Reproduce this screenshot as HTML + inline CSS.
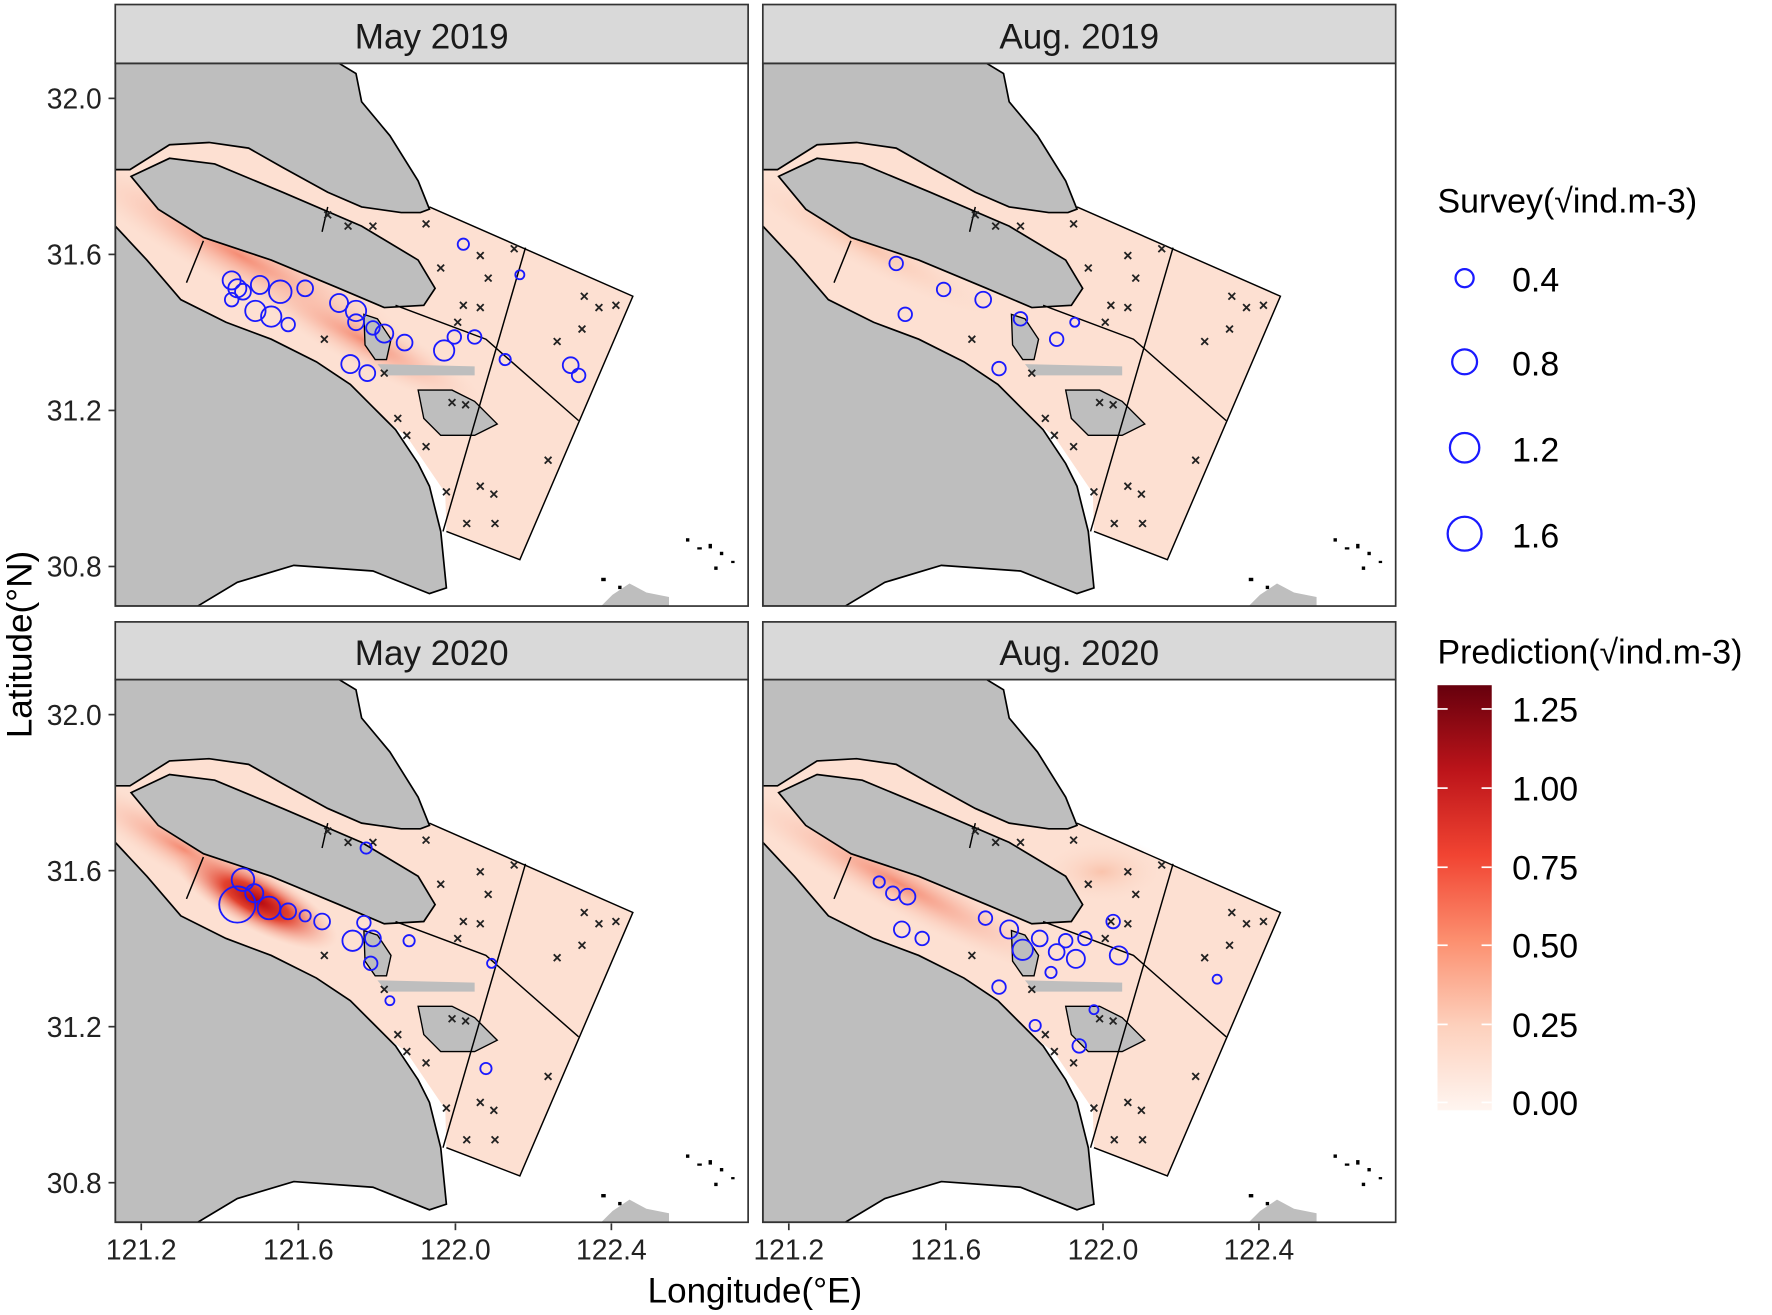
<!DOCTYPE html>
<html><head><meta charset="utf-8"><style>html,body{margin:0;padding:0;background:#fff}svg{display:block}</style></head>
<body>
<svg width="1772" height="1315" viewBox="0 0 1568 1163" preserveAspectRatio="none" xmlns="http://www.w3.org/2000/svg" font-family="Liberation Sans, sans-serif">
<defs>
<linearGradient id="cb" x1="0" y1="1" x2="0" y2="0">
<stop offset="0" stop-color="#fff5f0"/><stop offset="0.2" stop-color="#fdd0bc"/><stop offset="0.4" stop-color="#fc8f6f"/><stop offset="0.6" stop-color="#f14432"/><stop offset="0.8" stop-color="#bc141a"/><stop offset="1" stop-color="#67000d"/>
</linearGradient>
<radialGradient id="hot1"><stop offset="0" stop-color="#f4836a" stop-opacity="0.9"/><stop offset="1" stop-color="#fbd5c4" stop-opacity="0"/></radialGradient>
<radialGradient id="hot3"><stop offset="0" stop-color="#b3050f"/><stop offset="0.4" stop-color="#e2412e"/><stop offset="1" stop-color="#f9b6a0" stop-opacity="0"/></radialGradient>
<radialGradient id="hot2"><stop offset="0" stop-color="#f9c0a8" stop-opacity="0.9"/><stop offset="1" stop-color="#fde4d8" stop-opacity="0"/></radialGradient>
<clipPath id="pc"><rect x="0" y="0" width="560" height="480"/></clipPath>
<g id="land">
<polygon fill="#bebebe" stroke="#000" stroke-width="1.5" points="0,0 198,0 213,9 218,34 243,64 268,104 278,129 270,132 253,132 218,127 188,114 148,92 118,75 83,70 48,72 13,94 0,94"/>
<polygon fill="#bebebe" stroke="#000" stroke-width="1.5" points="14,100 48,84 88,89 148,114 218,144 268,174 283,199 273,214 238,216 198,199 138,174 78,154 38,129"/>
<polygon fill="#bebebe" stroke="#000" stroke-width="1.5" points="0,144 28,174 58,209 98,229 138,244 178,264 208,284 228,304 248,324 268,354 278,374 288,414 293,464 278,469 228,449 158,444 108,459 73,480 0,480"/>
<polygon fill="#bebebe" stroke="#000" stroke-width="1.2" points="220,222 232,226 244,244 240,262 230,262 221,249"/>
<polygon fill="#bebebe" points="232,266 318,268 318,276 240,276"/>
<polygon fill="#bebebe" stroke="#000" stroke-width="1.2" points="268,289 298,289 318,299 338,319 318,329 288,329 273,314"/>
<g fill="none" stroke="#000" stroke-width="1.3">
<polyline points="278,127 458,206 358,439 293,414"/>
<line x1="363" y1="163" x2="290" y2="414"/>
<polyline points="248,214 328,244 410,316"/>
<line x1="78" y1="157" x2="63" y2="194"/>
<line x1="188" y1="127" x2="183" y2="149"/>
</g>
<g fill="#000"><rect x="505" y="420" width="3" height="3"/><rect x="515" y="428" width="4" height="2"/><rect x="525" y="425" width="3" height="4"/><rect x="535" y="432" width="3" height="3"/><rect x="545" y="440" width="3" height="2"/><rect x="530" y="445" width="3" height="3"/><rect x="430" y="455" width="4" height="3"/><rect x="445" y="462" width="3" height="3"/></g>
<polygon fill="#bebebe" points="440,470 455,460 470,468 490,472 490,480 430,480"/>
</g>
<polygon id="pink" fill="#fde0d2" points="0,94 13,94 48,72 83,70 118,75 148,92 188,114 218,127 253,132 278,127 458,206 358,439 293,414 292,380 258,330 200,285 120,245 40,200 0,170"/>
</defs>
<rect width="1568" height="1163" fill="#fff"/>

<g transform="translate(102,56)"><g clip-path="url(#pc)">
<use href="#pink"/>
<ellipse cx="110" cy="170" rx="170" ry="30" transform="rotate(28 110 170)" fill="url(#hot1)"/>
<ellipse cx="220" cy="245" rx="120" ry="24" transform="rotate(28 220 245)" fill="url(#hot1)"/>
<use href="#land"/></g>
<rect x="0" y="0" width="560" height="480" fill="none" stroke="#333" stroke-width="1.5"/></g>

<g transform="translate(675,56)"><g clip-path="url(#pc)">
<use href="#pink"/>
<ellipse cx="90" cy="160" rx="150" ry="24" transform="rotate(28 90 160)" fill="url(#hot2)"/>
<use href="#land"/></g>
<rect x="0" y="0" width="560" height="480" fill="none" stroke="#333" stroke-width="1.5"/></g>

<g transform="translate(102,601)"><g clip-path="url(#pc)">
<use href="#pink"/>
<ellipse cx="60" cy="150" rx="110" ry="24" transform="rotate(30 60 150)" fill="url(#hot1)"/>
<ellipse cx="125" cy="195" rx="80" ry="26" transform="rotate(28 125 195)" fill="url(#hot3)"/>
<use href="#land"/></g>
<rect x="0" y="0" width="560" height="480" fill="none" stroke="#333" stroke-width="1.5"/></g>

<g transform="translate(675,601)"><g clip-path="url(#pc)">
<use href="#pink"/>
<ellipse cx="120" cy="180" rx="170" ry="26" transform="rotate(28 120 180)" fill="url(#hot1)"/>
<ellipse cx="300" cy="170" rx="60" ry="30" fill="url(#hot2)"/>
<use href="#land"/></g>
<rect x="0" y="0" width="560" height="480" fill="none" stroke="#333" stroke-width="1.5"/></g>

<g stroke="#333" stroke-width="1.5" fill="#d9d9d9">
<rect x="102" y="4" width="560" height="52"/><rect x="675" y="4" width="560" height="52"/>
<rect x="102" y="550" width="560" height="51"/><rect x="675" y="550" width="560" height="51"/>
</g>
<g font-size="31" fill="#1a1a1a" text-anchor="middle">
<text x="382" y="43">May 2019</text><text x="955" y="43">Aug. 2019</text>
<text x="382" y="588">May 2020</text><text x="955" y="588">Aug. 2020</text>
</g>

<g id="cr1" stroke="#222" stroke-width="1.6">
<path d="M287,187l6,6m0,-6l-6,6 M305,197l6,6m0,-6l-6,6 M327,197l6,6m0,-6l-6,6 M374,195l6,6m0,-6l-6,6 M422,223l6,6m0,-6l-6,6 M387,234l6,6m0,-6l-6,6 M429,243l6,6m0,-6l-6,6 M422,269l6,6m0,-6l-6,6 M452,217l6,6m0,-6l-6,6 M407,267l6,6m0,-6l-6,6 M402,282l6,6m0,-6l-6,6 M514,259l6,6m0,-6l-6,6 M527,269l6,6m0,-6l-6,6 M542,267l6,6m0,-6l-6,6 M512,288l6,6m0,-6l-6,6 M490,299l6,6m0,-6l-6,6 M357,382l6,6m0,-6l-6,6 M349,367l6,6m0,-6l-6,6 M374,392l6,6m0,-6l-6,6 M392,432l6,6m0,-6l-6,6 M422,427l6,6m0,-6l-6,6 M434,434l6,6m0,-6l-6,6 M410,460l6,6m0,-6l-6,6 M435,460l6,6m0,-6l-6,6 M482,404l6,6m0,-6l-6,6 M284,297l6,6m0,-6l-6,6 M337,327l6,6m0,-6l-6,6 M397,353l6,6m0,-6l-6,6 M409,355l6,6m0,-6l-6,6"/>
</g>
<use href="#cr1" transform="translate(573,0)"/>
<use href="#cr1" transform="translate(0,545)"/>
<use href="#cr1" transform="translate(573,545)"/>

<g fill="none" stroke="#1a1aff" stroke-width="1.6">
<circle cx="205" cy="248" r="8"/><circle cx="210" cy="255" r="8"/><circle cx="230" cy="252" r="8"/><circle cx="248" cy="258" r="10"/><circle cx="226" cy="275" r="9"/><circle cx="240" cy="280" r="9"/><circle cx="255" cy="287" r="6"/><circle cx="270" cy="255" r="7"/><circle cx="300" cy="268" r="8"/><circle cx="315" cy="275" r="9"/><circle cx="315" cy="285" r="7"/><circle cx="330" cy="290" r="6"/><circle cx="340" cy="295" r="8"/><circle cx="358" cy="303" r="7"/><circle cx="393" cy="310" r="9"/><circle cx="402" cy="298" r="6"/><circle cx="420" cy="298" r="6"/><circle cx="410" cy="216" r="5"/><circle cx="460" cy="243" r="4"/><circle cx="447" cy="318" r="5"/><circle cx="505" cy="323" r="7"/><circle cx="512" cy="332" r="6"/><circle cx="310" cy="322" r="8"/><circle cx="325" cy="330" r="7"/><circle cx="205" cy="265" r="6"/><circle cx="215" cy="258" r="7"/>
<circle cx="793" cy="233" r="6"/><circle cx="801" cy="278" r="6"/><circle cx="835" cy="256" r="6"/><circle cx="870" cy="265" r="7"/><circle cx="903" cy="282" r="6"/><circle cx="935" cy="300" r="6"/><circle cx="951" cy="285" r="4"/><circle cx="884" cy="326" r="6"/>
<circle cx="215" cy="778" r="10"/><circle cx="210" cy="800" r="16"/><circle cx="238" cy="803" r="10"/><circle cx="225" cy="790" r="8"/><circle cx="255" cy="806" r="7"/><circle cx="270" cy="810" r="5"/><circle cx="285" cy="815" r="7"/><circle cx="324" cy="750" r="5"/><circle cx="322" cy="816" r="6"/><circle cx="312" cy="832" r="9"/><circle cx="330" cy="830" r="7"/><circle cx="328" cy="852" r="6"/><circle cx="362" cy="832" r="5"/><circle cx="435" cy="852" r="4"/><circle cx="430" cy="945" r="5"/><circle cx="345" cy="885" r="4"/>
<circle cx="778" cy="780" r="5"/><circle cx="790" cy="790" r="6"/><circle cx="803" cy="793" r="7"/><circle cx="798" cy="822" r="7"/><circle cx="816" cy="830" r="6"/><circle cx="872" cy="812" r="6"/><circle cx="893" cy="822" r="8"/><circle cx="905" cy="840" r="9"/><circle cx="920" cy="830" r="7"/><circle cx="935" cy="842" r="7"/><circle cx="943" cy="832" r="6"/><circle cx="952" cy="848" r="8"/><circle cx="960" cy="830" r="6"/><circle cx="985" cy="815" r="6"/><circle cx="990" cy="845" r="8"/><circle cx="930" cy="860" r="5"/><circle cx="884" cy="873" r="6"/><circle cx="916" cy="907" r="5"/><circle cx="968" cy="893" r="4"/><circle cx="955" cy="925" r="6"/><circle cx="1077" cy="866" r="4"/>
</g>

<g stroke="#333" stroke-width="1.5">
<line x1="96" y1="87" x2="102" y2="87"/><line x1="96" y1="225" x2="102" y2="225"/><line x1="96" y1="363" x2="102" y2="363"/><line x1="96" y1="501" x2="102" y2="501"/>
<line x1="96" y1="632" x2="102" y2="632"/><line x1="96" y1="770" x2="102" y2="770"/><line x1="96" y1="908" x2="102" y2="908"/><line x1="96" y1="1046" x2="102" y2="1046"/>
<line x1="125" y1="1082" x2="125" y2="1088"/><line x1="264" y1="1082" x2="264" y2="1088"/><line x1="403" y1="1082" x2="403" y2="1088"/><line x1="541" y1="1082" x2="541" y2="1088"/>
<line x1="698" y1="1082" x2="698" y2="1088"/><line x1="837" y1="1082" x2="837" y2="1088"/><line x1="976" y1="1082" x2="976" y2="1088"/><line x1="1114" y1="1082" x2="1114" y2="1088"/>
</g>
<g font-size="25" fill="#222" text-anchor="end">
<text x="90" y="96">32.0</text><text x="90" y="234">31.6</text><text x="90" y="372">31.2</text><text x="90" y="510">30.8</text>
<text x="90" y="641">32.0</text><text x="90" y="779">31.6</text><text x="90" y="917">31.2</text><text x="90" y="1055">30.8</text>
</g>
<g font-size="25" fill="#222" text-anchor="middle">
<text x="125" y="1114">121.2</text><text x="264" y="1114">121.6</text><text x="403" y="1114">122.0</text><text x="541" y="1114">122.4</text>
<text x="698" y="1114">121.2</text><text x="837" y="1114">121.6</text><text x="976" y="1114">122.0</text><text x="1114" y="1114">122.4</text>
</g>
<text x="668" y="1152" font-size="31" text-anchor="middle" fill="#000">Longitude(°E)</text>
<text transform="translate(28,570) rotate(-90)" font-size="31" text-anchor="middle" fill="#000">Latitude(°N)</text>

<g font-size="30" fill="#000">
<text x="1272" y="188">Survey(√ind.m-3)</text>
<text x="1338" y="258">0.4</text><text x="1338" y="332">0.8</text><text x="1338" y="408">1.2</text><text x="1338" y="484">1.6</text>
<text x="1272" y="587">Prediction(√ind.m-3)</text>
<text x="1338" y="638">1.25</text><text x="1338" y="708">1.00</text><text x="1338" y="778">0.75</text><text x="1338" y="847">0.50</text><text x="1338" y="917">0.25</text><text x="1338" y="986">0.00</text>
</g>
<g fill="none" stroke="#1a1aff" stroke-width="2">
<circle cx="1296" cy="246" r="8"/><circle cx="1296" cy="320" r="11"/><circle cx="1296" cy="396" r="13"/><circle cx="1296" cy="472" r="15"/>
</g>
<rect x="1272" y="606" width="48" height="376" fill="url(#cb)"/>
<g stroke="#fff" stroke-width="1.5">
<line x1="1272" y1="627" x2="1281" y2="627"/><line x1="1311" y1="627" x2="1320" y2="627"/>
<line x1="1272" y1="697" x2="1281" y2="697"/><line x1="1311" y1="697" x2="1320" y2="697"/>
<line x1="1272" y1="767" x2="1281" y2="767"/><line x1="1311" y1="767" x2="1320" y2="767"/>
<line x1="1272" y1="836" x2="1281" y2="836"/><line x1="1311" y1="836" x2="1320" y2="836"/>
<line x1="1272" y1="906" x2="1281" y2="906"/><line x1="1311" y1="906" x2="1320" y2="906"/>
<line x1="1272" y1="975" x2="1281" y2="975"/><line x1="1311" y1="975" x2="1320" y2="975"/>
</g>
</svg>
</body></html>
